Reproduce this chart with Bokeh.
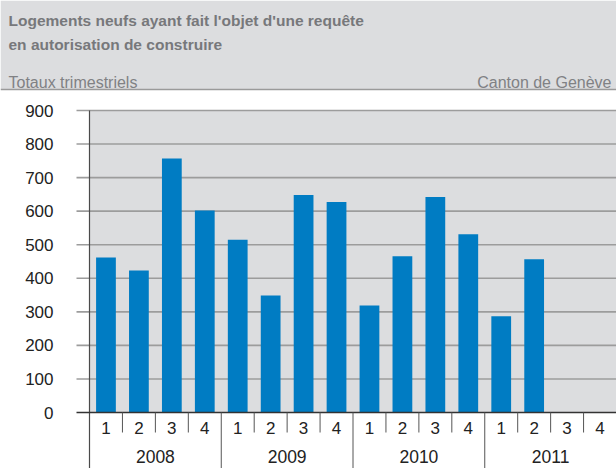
from bokeh.plotting import figure
from bokeh.models import Range1d, ColumnDataSource
from bokeh.core.properties import value
from bokeh.embed import file_html
from bokeh.resources import INLINE

# ---- data ----
title_lines = ["Logements neufs ayant fait l'objet d'une requête",
               "en autorisation de construire"]
subtitle_left = "Totaux trimestriels"
subtitle_right = "Canton de Genève"
years = ["2008", "2009", "2010", "2011"]
quarters = ["1", "2", "3", "4"]
values = [462, 423, 757, 602, 515, 349, 648, 627, 319, 466, 642, 531, 287, 457]
y_ticks = [0, 100, 200, 300, 400, 500, 600, 700, 800, 900]

FONT = "Liberation Sans"
GRAY_BG = "#dcdddf"
BAR = "#007cc3"
TXT = "#222222"

# ---- canvas geometry (pixels) ----
W, H = 616, 468
PLOT_LEFT, PLOT_TOP, PLOT_BOTTOM = 89, 110, 412
HEADER_H = 89

n = len(years) * len(quarters)
ymax = y_ticks[-1]
pps = (W - PLOT_LEFT) / n              # px per category slot
ppu = (PLOT_BOTTOM - PLOT_TOP) / ymax  # px per value unit
x_start = -PLOT_LEFT / pps
y_bot = -(H - PLOT_BOTTOM) / ppu
y_top = ymax + PLOT_TOP / ppu

p = figure(width=W, height=H, output_backend="svg", toolbar_location=None,
           x_range=Range1d(x_start, n), y_range=Range1d(y_bot, y_top),
           x_axis_type=None, y_axis_type=None,
           min_border=0, min_border_left=0, min_border_right=0,
           min_border_top=0, min_border_bottom=0)
p.outline_line_color = None
p.background_fill_color = "white"
p.border_fill_color = "white"
p.xgrid.visible = False
p.ygrid.visible = False

# ---- header ----
hdr_bottom = y_top - HEADER_H / ppu
p.quad(left=[x_start], right=[n], top=[y_top], bottom=[hdr_bottom],
       fill_color=GRAY_BG, line_color=None)
p.segment(x0=[x_start], x1=[n], y0=[hdr_bottom], y1=[hdr_bottom],
          line_color="#9a9a9a", line_width=1.5)
p.text(x=[x_start] * 2, y=[y_top] * 2, text=title_lines, x_offset=8,
       y_offset=[20, 44], text_font=value(FONT), text_font_size="15.5px",
       text_font_style="bold", text_color="#77787b",
       text_baseline="alphabetic", text_align="left")
p.text(x=[x_start], y=[y_top], text=[subtitle_left], x_offset=8, y_offset=82,
       text_font=value(FONT), text_font_size="16px", text_color="#808184",
       text_baseline="alphabetic", text_align="left")
p.text(x=[n], y=[y_top], text=[subtitle_right], x_offset=-5, y_offset=82,
       text_font=value(FONT), text_font_size="16px", text_color="#808184",
       text_baseline="alphabetic", text_align="right")

# ---- plot area ----
p.quad(left=[0], right=[n], bottom=[0], top=[ymax], fill_color=GRAY_BG, line_color=None)

tick_x = -13 / pps
grid = y_ticks[1:]
p.segment(x0=[tick_x] * len(grid), x1=[n] * len(grid), y0=grid, y1=grid,
          line_color="#9c9c9c", line_width=1.6)

centers = [i + 0.5 for i in range(n)]
src = ColumnDataSource(dict(x=centers[:len(values)], top=values))
p.vbar(x="x", top="top", width=0.6, bottom=0, source=src,
       fill_color=BAR, line_color=None)

# y axis line and zero line
p.segment(x0=[0], x1=[0], y0=[y_bot], y1=[ymax], line_color="#4a4a4a", line_width=1.2)
p.segment(x0=[tick_x], x1=[n], y0=[0], y1=[0], line_color="#333333", line_width=1.3)

# y tick labels
p.text(x=[0] * len(y_ticks), y=y_ticks, text=[str(t) for t in y_ticks], x_offset=-36,
       text_font=value(FONT), text_font_size="17px", text_color=TXT,
       text_align="right", text_baseline="middle")

# quarter tick marks and year separators
q_bounds = [i for i in range(1, n) if i % len(quarters) != 0]
y_bounds = [i for i in range(1, n) if i % len(quarters) == 0]
tick_len = 20 / ppu
p.segment(x0=q_bounds, x1=q_bounds, y0=[0] * len(q_bounds), y1=[-tick_len] * len(q_bounds),
          line_color="#555555", line_width=1)
p.segment(x0=y_bounds, x1=y_bounds, y0=[0] * len(y_bounds), y1=[y_bot] * len(y_bounds),
          line_color="#555555", line_width=1)

# quarter labels
p.text(x=centers, y=[0] * n, text=quarters * len(years), y_offset=15,
       text_font=value(FONT), text_font_size="17px", text_color=TXT,
       text_align="center", text_baseline="middle")
# year labels
yc = [len(quarters) * (k + 0.5) for k in range(len(years))]
p.text(x=yc, y=[0] * len(years), text=years, y_offset=44,
       text_font=value(FONT), text_font_size="17.5px", text_color=TXT,
       text_align="center", text_baseline="middle")

open("out.html", "w").write(file_html(p, INLINE))
